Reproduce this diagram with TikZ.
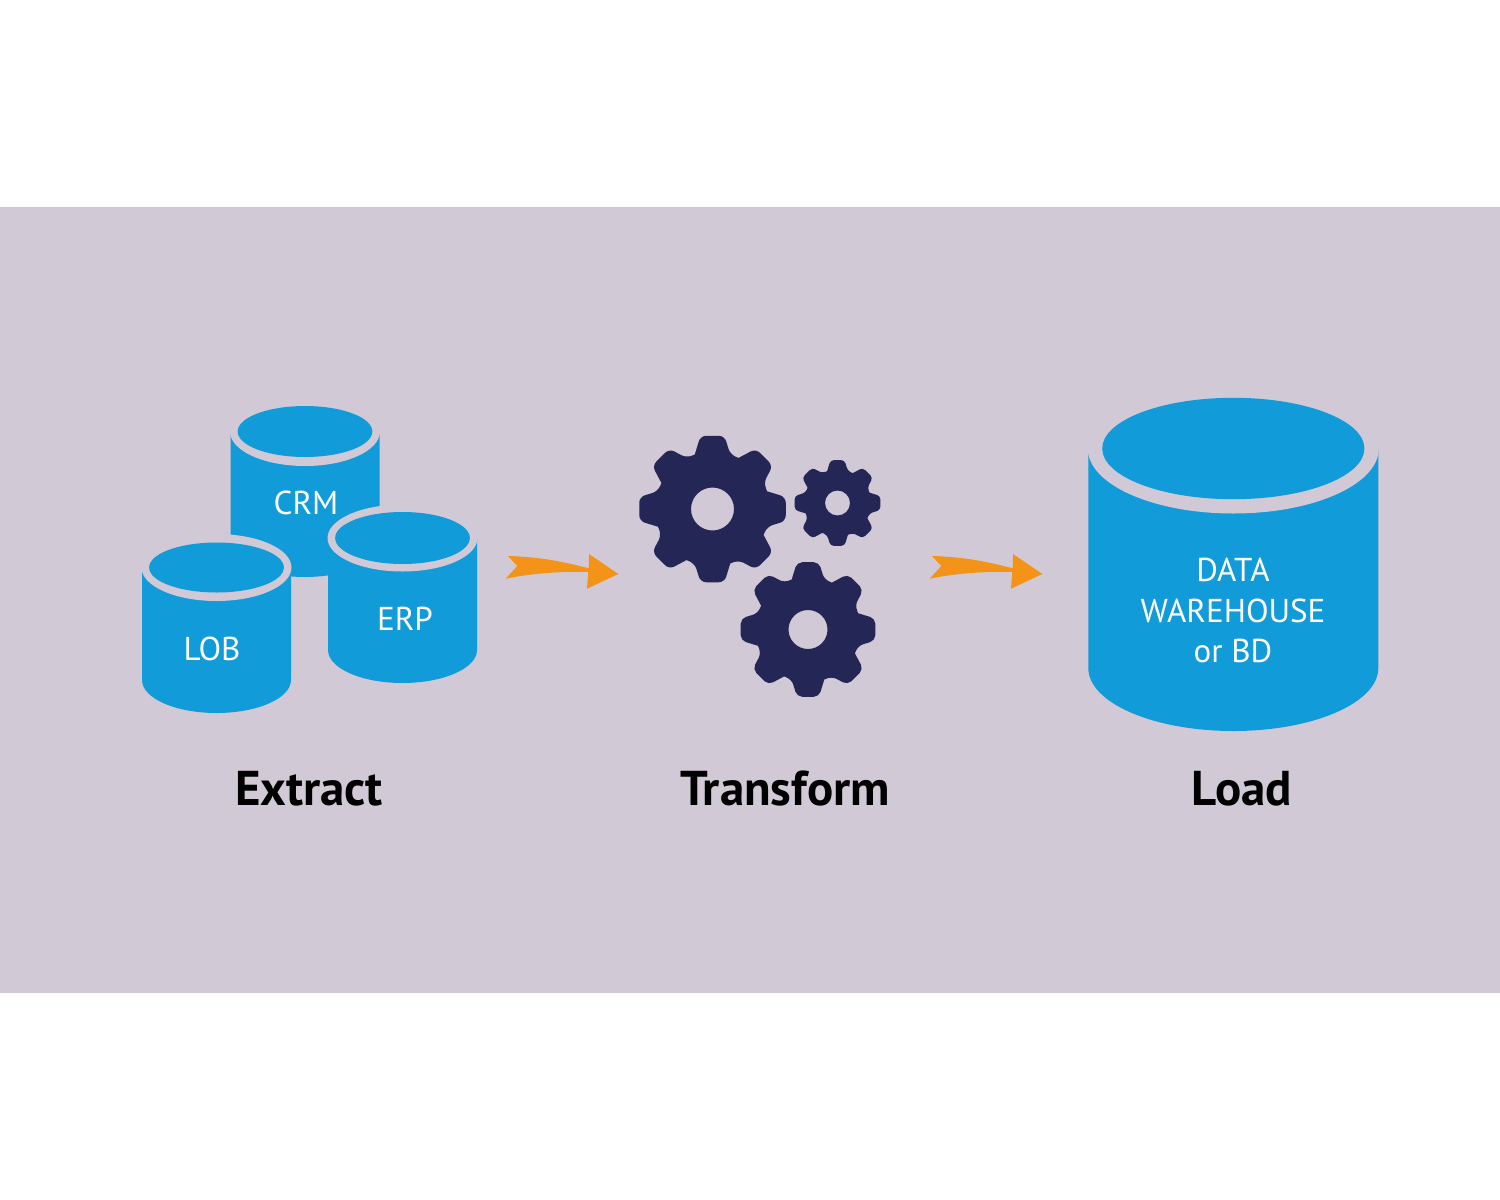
\documentclass[tikz,border=0pt]{standalone}
\usepackage{fontspec}
\setmainfont{PT Sans}
\usetikzlibrary{calc}
\definecolor{Band}{HTML}{D1C9D6}
\definecolor{DbBlue}{HTML}{119BD9}
\definecolor{GearNavy}{HTML}{242655}
\definecolor{Swoosh}{HTML}{F39317}
\tikzset{
  cylbody/.style={fill=DbBlue},
  cylrim/.style={fill=Band},
  gearfill/.style={fill=GearNavy, even odd rule},
  dblabel/.style={text=white, font=\fontsize{9.4}{11.55}\selectfont, align=center, inner sep=0pt},
  steplabel/.style={text=black, font=\fontsize{13.9}{15}\selectfont\bfseries, inner sep=0pt},
  swoosharrow/.style={fill=Swoosh, to path={
    -- ($(\tikztotarget)+(-110.3,-18)$)
    .. controls ($(\tikztotarget)+(-75,-17)$) and ($(\tikztotarget)+(-50,-11)$) .. ($(\tikztotarget)+(-29.6,-5.7)$)
    -- ($(\tikztotarget)+(-29.3,-20)$) -- (\tikztotarget) -- ($(\tikztotarget)+(-31.3,14.7)$)
    -- ($(\tikztotarget)+(-30,-2)$)
    .. controls ($(\tikztotarget)+(-60,-3)$) and ($(\tikztotarget)+(-90,0)$) .. ($(\tikztotarget)+(-112.6,4.7)$)
    -- cycle}},
}
% name, cx, cy of top, rx, ry of inner top, ry of rim, side end y, bottom ry
\newcommand{\dbcyl}[8]{
  \coordinate (#1) at (#2,#3);
  \fill[cylbody] (#2-#4,#3) -- (#2-#4,#7) arc[start angle=180, end angle=0, x radius=#4, y radius=#8] -- (#2+#4,#3) -- cycle;
  \fill[cylrim] (#1) ellipse [x radius=#4+0.5, y radius=#6];
  \fill[cylbody] (#1) ellipse [x radius=#4*0.904, y radius=#5];
}
% name, cx, cy, outer radius, hole radius
\newcommand{\gearcog}[5]{
  \coordinate (#1) at (#2,#3);
  \begin{scope}[shift={(#1)}]
    \fill[gearfill] (-22.5:{0.78*#4})
      \foreach \a in {0,45,...,315} {
        -- ({\a-18}:{0.78*#4}) [rounded corners=#4*0.022pt] -- ({\a-9.3}:{1.01*#4}) -- ({\a+9.3}:{1.01*#4}) -- ({\a+18}:{0.78*#4}) [sharp corners]
      } -- cycle
      (0,0) circle [radius=#5];
  \end{scope}
}
\begin{document}
\begin{tikzpicture}[x=0.01cm, y=-0.01cm]
  \useasboundingbox (0,0) rectangle (1500,1200);
  \fill[white] (0,0) rectangle (1500,1200);
  \fill[Band] (0,207) rectangle (1500,993);

  % source stores
  \dbcyl{crm}{305}{431.5}{74.5}{25.5}{34.5}{544}{33}
  \dbcyl{lob}{216.5}{567.5}{74.5}{25}{33.5}{680}{33}
  \dbcyl{erp}{402.5}{538}{74.5}{26}{33.5}{650}{33}
  \node[dblabel] (crmlabel) at (306,503) {CRM};
  \node[dblabel] (loblabel) at (212,649) {LOB};
  \node[dblabel] (erplabel) at (405,619) {ERP};

  % warehouse
  \dbcyl{dw}{1233.3}{448.5}{145}{50.7}{65}{668}{63}
  \node[dblabel] (dwlabel) at (1233,610.5) {DATA\\WAREHOUSE\\or BD};

  \gearcog{gearA}{712.5}{509}{73.5}{21.5}
  \gearcog{gearB}{837.5}{503}{43}{12.5}
  \gearcog{gearC}{808}{629.5}{67.5}{19.5}

  \coordinate (tailA) at (517.3,566);
  \coordinate (tipA) at (618.3,574);
  \coordinate (tailB) at (941.3,566);
  \coordinate (tipB) at (1042.3,574);
  \path[swoosharrow] (tailA) to (tipA);
  \path[swoosharrow] (tailB) to (tipB);

  \node[steplabel] (extract) at (309,789) {Extract};
  \node[steplabel] (transform) at (785,789) {Transform};
  \node[steplabel] (load) at (1242,789) {Load};
\end{tikzpicture}
\end{document}
